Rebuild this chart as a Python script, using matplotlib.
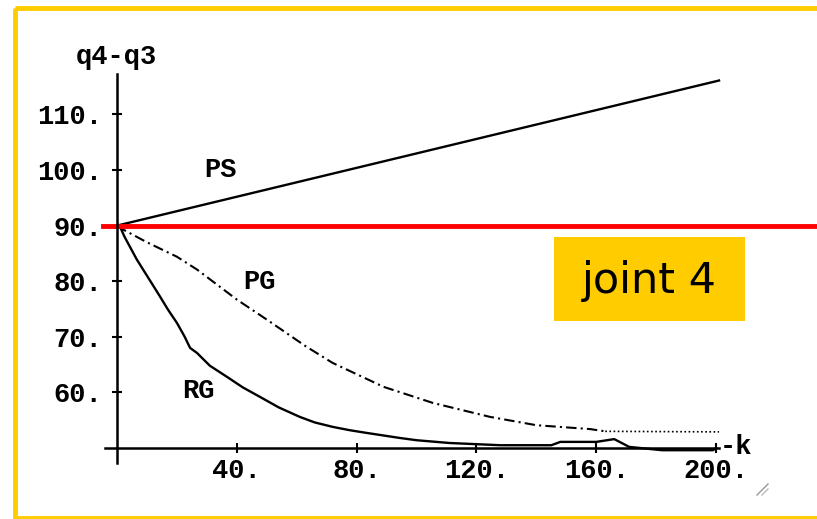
import matplotlib
matplotlib.use('Agg')
import matplotlib.pyplot as plt
from matplotlib.patches import Rectangle
from matplotlib.lines import Line2D
from matplotlib.transforms import Affine2D

# data
ps_k = [0, 201]
ps_v = [90, 116.1]

pg_k = [0, 2, 10, 20, 26.7, 40, 50, 63, 72, 89, 105.5, 124.5, 140, 158, 163]
pg_v = [90, 89.3, 87.0, 84.4, 82.1, 76.7, 73.1, 68.3, 65.3, 61.0, 58.1, 55.6, 54.1, 53.4, 53.0]
pg_tail_k = [163, 201]
pg_tail_v = [53.0, 52.9]

rg_k = [0, 1, 2.5, 4.3, 6.5, 8.7, 11.5, 14.4, 17, 20, 22.5, 24.4, 26.7, 31, 36.7, 42, 47.7,
        54, 61, 66, 72, 77.7, 83.5, 94.5, 100, 111, 128, 145, 148, 160, 166, 171, 182,
        199, 200]
rg_v = [90, 89.8, 88.0, 86.2, 84.0, 82.1, 79.7, 77.2, 74.9, 72.5, 70.1, 68.0, 67.1, 64.8,
        62.8, 60.9, 59.2, 57.3, 55.6, 54.6, 53.8, 53.2, 52.7, 51.8, 51.4, 50.9, 50.5,
        50.5, 51.1, 51.1, 51.6, 50.2, 49.6, 49.6, 50.0]

x_ticks = [40, 80, 120, 160, 200]
x_labels = ['40.', '80.', '120.', '160.', '200.']
y_ticks = [60, 70, 80, 90, 100, 110]
y_labels = ['60.', '70.', '80.', '90.', '100.', '110.']
threshold = 90

W, H = 817, 519
YELLOW = '#FFCC00'
MONO = 'Liberation Mono'
FS = 19.5

fig = plt.figure(figsize=(W / 100, H / 100), dpi=100)
# pixel coords (origin top-left) -> figure
px = Affine2D().scale(1 / W, -1 / H).translate(0, 1) + fig.transFigure

ax = fig.add_axes([0, 0, 1, 1])
ax.set_xlim(-39.07, 233.7)
ax.set_ylim(37.23, 130.58)
ax.patch.set_alpha(0)

for s in ['top', 'right']:
    ax.spines[s].set_visible(False)
ax.spines['left'].set_position(('data', 0))
ax.spines['left'].set_bounds(47.3, 117.2)
ax.spines['bottom'].set_position(('data', 50))
ax.spines['bottom'].set_bounds(-4, 201)
for s in ['left', 'bottom']:
    ax.spines[s].set_linewidth(1.8)

ax.set_xticks(x_ticks)
ax.set_xticklabels(x_labels)
ax.set_yticks(y_ticks)
ax.set_yticklabels(y_labels)
ax.tick_params(direction='inout', length=7, width=1.5, labelsize=FS)
ax.tick_params(axis='y', pad=7)
ax.tick_params(axis='x', pad=4)
for lab in ax.get_xticklabels() + ax.get_yticklabels():
    lab.set_family(MONO)
    lab.set_weight('bold')

ax.plot(ps_k, ps_v, color='black', lw=1.7)
ax.plot(pg_k, pg_v, color='black', lw=1.5, ls=(0, (5, 2, 1, 2)))
ax.plot(pg_tail_k, pg_tail_v, color='black', lw=1.2, ls=(0, (1, 1.5)))
ax.plot(rg_k, rg_v, color='black', lw=1.7)

tkw = dict(family=MONO, weight='bold', fontsize=FS)
ax.text(34.4, 100.0, 'PS', ha='center', va='center', **tkw)
ax.text(47.7, 79.9, 'PG', ha='center', va='center', **tkw)
ax.text(27.0, 60.3, 'RG', ha='center', va='center', **tkw)
ax.text(-0.3, 120.3, 'q4-q3', ha='center', va='center', **tkw)
ax.text(201.2, 50.2, '-k', ha='left', va='center', **tkw)

# red reference line
ax.plot([-4.7, 240], [threshold, threshold], color='#FF0000', lw=3.5, clip_on=False)

# label box
fig.add_artist(Rectangle((554, 237), 191, 84, transform=px, facecolor=YELLOW,
                         edgecolor='none'))
fig.text(649, 281, 'joint 4', transform=px, ha='center', va='center',
         fontsize=31, family='DejaVu Sans')

# yellow frame (right side cut off)
fig.add_artist(Rectangle((15, 7.5), 830, 510, transform=px, facecolor='none',
                         edgecolor=YELLOW, lw=3.5))

# small grey mark at bottom right
fig.add_artist(Line2D([757, 768], [495, 484], transform=px, color='#999999', lw=1))
fig.add_artist(Line2D([762, 768], [495, 489], transform=px, color='#bbbbbb', lw=1))

fig.savefig('out.png', dpi=100)
